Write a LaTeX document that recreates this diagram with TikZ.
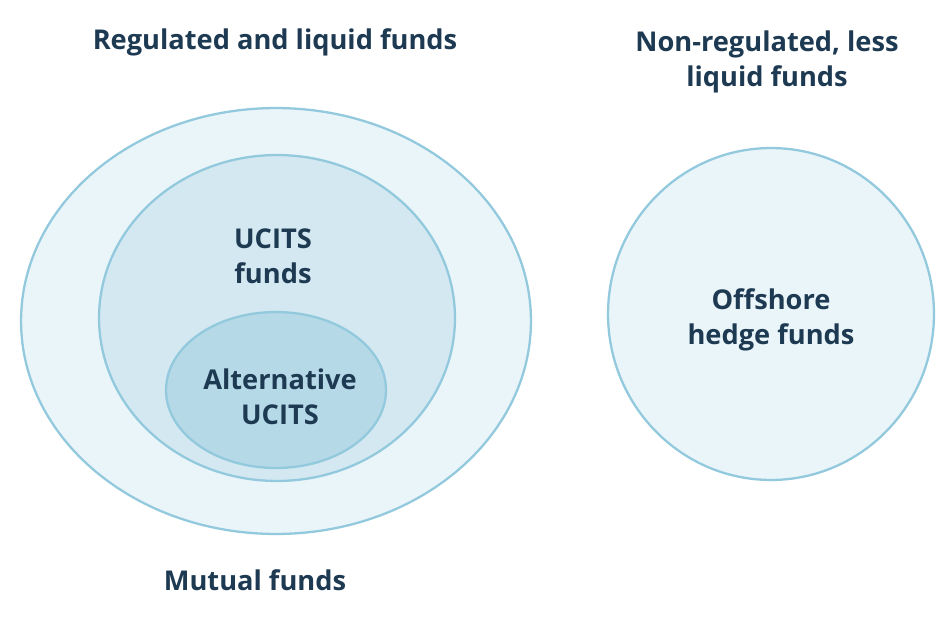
\documentclass[tikz,border=0pt]{standalone}
\usepackage{fontspec}
\setmainfont{Open Sans}
\usetikzlibrary{positioning}
\definecolor{ink}{HTML}{1D3A52}
\definecolor{rim}{HTML}{92C9DD}
\definecolor{paleA}{HTML}{EAF5FA}
\definecolor{paleB}{HTML}{D3E8F1}
\definecolor{paleC}{HTML}{B6D9E8}
\begin{document}
\begin{tikzpicture}[x=0.02cm,y=-0.02cm]
  % Styles
  \tikzset{set/.style={draw=rim,line width=1.3pt},
           lbl/.style={text=ink,align=center,font=\fontsize{15.5}{20}\selectfont\bfseries}}
  \useasboundingbox (0,0) rectangle (942,622);

  % regulated sets
  \draw[set,fill=paleA] (276,321) ellipse [x radius=5.1cm,y radius=4.26cm];
  \draw[set,fill=paleB] (277,318) ellipse [x radius=3.56cm,y radius=3.26cm];
  \draw[set,fill=paleC] (276,390) ellipse [x radius=2.2cm,y radius=1.56cm];

  % non-regulated set
  \draw[set,fill=paleA] (771,314) ellipse [x radius=3.26cm,y radius=3.32cm];

  % labels
  \node[lbl] (reg) at (275,42) {Regulated and liquid funds};
  \node[lbl] (nonreg) at (767,62) {Non-regulated, less\\liquid funds};
  \node[lbl] (ucits) at (273,256) {UCITS\\funds};
  \node[lbl] (alt) at (280,397) {Alternative\\UCITS};
  \node[lbl] (hedge) at (771,320) {Offshore\\hedge funds};
  \node[lbl] (mutual) at (255,580) {Mutual funds};
\end{tikzpicture}
\end{document}
